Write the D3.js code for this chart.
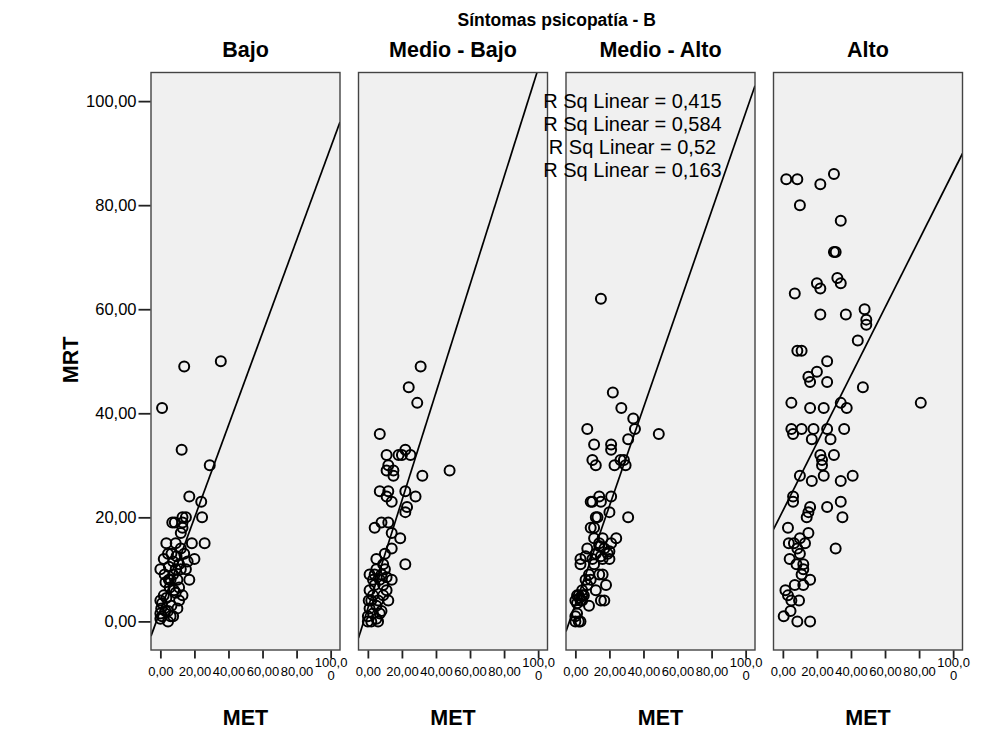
<!DOCTYPE html>
<html>
<head>
<meta charset="utf-8">
<script src="https://cdn.jsdelivr.net/npm/d3@7"></script>
<style>
  body { margin: 0; background: #ffffff; }
  svg { display: block; font-family: "Liberation Sans", Arial, Helvetica, sans-serif; }
</style>
</head>
<body>
<svg id="chart" width="981" height="747"></svg>
<script>
// ---- data: [MET, MRT] per group of "Síntomas psicopatía - B" ----
const groups = ["Bajo", "Medio - Bajo", "Medio - Alto", "Alto"];

const bajo = [
  [1,41],[12.5,33],[29,30],[17,24],[24,23],[24.5,20],[13,20],[15,20],[7,19],[8.5,19],
  [13,19],[12,17],[13,18],[3.5,15],[9,15],[18.5,15],[26,15],[12,14],[4.5,13],[2,12],
  [7.5,11.5],[20,12],[16,11.5],[0,10],[15,10],[17,8],[10,8],[3,7.5],[7.5,9],[12,10],
  [5,10.5],[13,5],[9,5.5],[0,4],[1,3.5],[3.5,4.5],[6.5,3],[10,2.5],[0,1.5],[1,1],
  [4.5,0],[0,0.5],[7.5,1],[11,4],[5.5,6.5],[2.5,9],[6.5,13],[0.5,2.5],[9.5,12.5],[14,13],
  [11,6.5],[4.5,2],[14,49],[35.5,50],[2,5],[5,8],[8,6],[6,1],[3,2],[9,10],[11,11],[6,8]
];

const medioBajo = [
  [31,49],[24,45],[29,42],[7,36],[22,33],[11,32],[18,32],[20,32],[25,32],[12,30],
  [11,29],[15,29],[15,28],[32,28],[48,29],[7,25],[12,25],[22,25],[11,24],[14,23],
  [28,24],[23,22],[22,21],[4,18],[8,19],[12,19],[14,17],[19,16],[14,14],[5,12],
  [10,13],[22,11],[9,11],[1,9],[5,10],[10,10],[14,8],[7,8],[1,6],[9,7],
  [4,7],[12,4],[9,5],[0.5,4],[3,5],[6,4],[1,2.5],[5,3],[0,1],[0,0],
  [2,0],[6,0],[3,1.5],[8,2],[11,6],[4,9],[3,8],[8,9],[11,8.5],[2,4],[7,1.5],[5,0.5]
];

const medioAlto = [
  [15,62],[22,44],[27,41],[34,39],[35,37],[7,37],[49,36],[31,35],[11,34],[21,34],
  [21,33],[10,31],[12,30],[23,30],[26.5,31],[29.5,30],[28.5,31],[31,20],[21,24],[14,24],
  [9,23],[10,23],[15,23],[20,21],[12,20],[13,20],[9,18],[11,18],[11,16],[16,16],
  [24,16],[21,15],[7,14],[14,14.5],[17,14],[12,13],[19,13],[15,12.5],[3,12],[3,11],
  [10,12],[11,11],[20,12],[16,12],[8,9],[14,9],[16,9],[6,8],[9,8],[18,7],
  [12,6],[7,7],[2,5],[4,5],[0,4],[3,4],[5,5],[15,4],[17,4],[8,3],
  [1,3.5],[0,0],[2,0],[3,0],[0,1],[1,1.5],[4,6],[1,5],[2.5,4.5],[4,4],[6,12.5],[20,13.5],[14,15]
];

const alto = [
  [2,85],[8.5,85],[22,84],[30,86],[10,80],[34,77],[30,71],[31,71],[32,66],[34,65],
  [20,65],[22,64],[7,63],[22,59],[37,59],[48,60],[49,58],[49,57],[44,54],[8.5,52],
  [11,52],[26,50],[20,48],[15,47],[16,46],[26,46],[47,45],[5,42],[16,41],[24,41],
  [34,42],[37.5,41],[81,42],[5,37],[6,36],[11,37],[18,37],[26,37],[36,37],[17,35],
  [28,35],[22,32],[30,32],[23,31],[23,30],[24,28],[10,28],[17,27],[34,27],[41,28],
  [6,24],[6,23],[16,22],[15,21],[14,20],[26,22],[34,23],[35,20],[3,18],[15,17],
  [3.5,15],[6.5,15],[10,16],[13,15],[8.5,14],[4,12],[10,13],[8,11],[12,11],[12,10],
  [11,9],[31,14],[16,8],[12,7],[7,7],[1.5,6],[3,5],[5,4],[9.5,4],[4.5,2],
  [0.5,1],[8.5,0],[16,0]
];

const groupPoints = [bajo, medioBajo, medioAlto, alto];

// linear fit per group (MRT = intercept + slope * MET) and its R²
const fitIntercept = [2.07, 2.5, 3.27, 21.25];
const fitSlope     = [0.89, 1.037, 0.945, 0.651];
const rSquared     = [0.415, 0.584, 0.52, 0.163];

const axisTicks  = [0, 20, 40, 60, 80, 100];
const chartTitle = "Síntomas psicopatía - B";
const xTitle = "MET";
const yTitle = "MRT";

// ---- layout ----
const plotTop = 72.5, plotBottom = 650;
const firstLeft = 151, panelW = 189, panelStep = 207.5;
const domain = [-5.5, 105.5];

const locale = d3.formatLocale({ decimal: ",", thousands: ".", grouping: [3], currency: ["", ""] });
const fmt2 = locale.format(".2f");
const fmtR = v => String(v).replace(".", ",");

const svg = d3.select("#chart");
const y = d3.scaleLinear().domain(domain).range([plotBottom, plotTop]);

// overall title
svg.append("text")
  .attr("x", (firstLeft + 3 * panelStep + firstLeft + panelW) / 2)
  .attr("y", 26)
  .attr("text-anchor", "middle")
  .attr("font-size", 17.5)
  .attr("font-weight", "bold")
  .attr("fill", "#000")
  .text(chartTitle);

// wrap a tick label character by character when it is wider than its slot
function wrapChars(textSel, maxW, lineH) {
  textSel.each(function () {
    const t = d3.select(this);
    const full = t.text();
    if (this.getComputedTextLength() <= maxW) return;
    const lines = [];
    let cur = "";
    for (const ch of full) {
      t.text(cur + ch);
      if (this.getComputedTextLength() > maxW && cur.length) {
        lines.push(cur);
        cur = ch;
      } else {
        cur += ch;
      }
    }
    lines.push(cur);
    t.text(null);
    const xAttr = t.attr("x") || 0;
    lines.forEach((ln, k) => {
      t.append("tspan").attr("x", xAttr).attr("dy", k === 0 ? 0 : lineH).text(ln);
    });
  });
}

groups.forEach((g, i) => {
  const x0 = firstLeft + i * panelStep;
  const x = d3.scaleLinear().domain(domain).range([x0, x0 + panelW]);
  const pts = groupPoints[i];

  // panel background
  svg.append("rect")
    .attr("x", x0).attr("y", plotTop)
    .attr("width", panelW).attr("height", plotBottom - plotTop)
    .attr("fill", "#f0f0f0");

  const clipId = "clip-" + i;
  svg.append("clipPath").attr("id", clipId)
    .append("rect")
    .attr("x", x0).attr("y", plotTop)
    .attr("width", panelW).attr("height", plotBottom - plotTop);

  const body = svg.append("g").attr("clip-path", `url(#${clipId})`);

  // points
  body.selectAll("circle")
    .data(pts)
    .join("circle")
    .attr("cx", d => x(d[0]))
    .attr("cy", d => y(d[1]))
    .attr("r", 5)
    .attr("fill", "none")
    .attr("stroke", "#000")
    .attr("stroke-width", 2);

  // fit line across the panel's MET range
  const fitLine = d3.line().x(d => x(d)).y(d => y(fitIntercept[i] + fitSlope[i] * d));
  body.append("path")
    .attr("d", fitLine(domain))
    .attr("fill", "none")
    .attr("stroke", "#000")
    .attr("stroke-width", 1.7);

  // panel frame
  svg.append("rect")
    .attr("x", x0).attr("y", plotTop)
    .attr("width", panelW).attr("height", plotBottom - plotTop)
    .attr("fill", "none")
    .attr("stroke", "#444")
    .attr("stroke-width", 1.4);

  // panel heading
  svg.append("text")
    .attr("x", x0 + panelW / 2)
    .attr("y", 57)
    .attr("text-anchor", "middle")
    .attr("font-size", 21.5)
    .attr("font-weight", "bold")
    .attr("fill", "#000")
    .text(g);

  // x axis
  const gx = svg.append("g")
    .attr("transform", `translate(0,${plotBottom + 0.5})`)
    .call(d3.axisBottom(x).tickValues(axisTicks).tickSize(8).tickPadding(8).tickFormat(fmt2));
  gx.select(".domain").remove();
  gx.selectAll(".tick line").attr("stroke", "#222").attr("stroke-width", 1.8);
  gx.selectAll(".tick text")
    .attr("font-size", 13)
    .attr("font-family", "Liberation Sans, Arial, sans-serif")
    .attr("fill", "#000");
  const slot = x(20) - x(0) - 0.5;
  gx.selectAll(".tick text").call(wrapChars, slot, 13.5);

  // x axis title
  svg.append("text")
    .attr("x", x0 + panelW / 2)
    .attr("y", 725)
    .attr("text-anchor", "middle")
    .attr("font-size", 21.5)
    .attr("font-weight", "bold")
    .attr("fill", "#000")
    .text(xTitle);

  // y axis on the first panel only
  if (i === 0) {
    const gy = svg.append("g")
      .attr("transform", `translate(${x0 - 0.5},0)`)
      .call(d3.axisLeft(y).tickValues(axisTicks).tickSize(12).tickPadding(2).tickFormat(fmt2));
    gy.select(".domain").remove();
    gy.selectAll(".tick line").attr("stroke", "#222").attr("stroke-width", 1.8);
    gy.selectAll(".tick text")
      .attr("font-size", 16.5)
      .attr("font-family", "Liberation Sans, Arial, sans-serif")
      .attr("fill", "#000");
  }
});

// y axis title
svg.append("text")
  .attr("transform", "translate(78,360) rotate(-90)")
  .attr("text-anchor", "middle")
  .attr("font-size", 21.5)
  .attr("font-weight", "bold")
  .attr("fill", "#000")
  .text(yTitle);

// R² annotations, one line per group
svg.append("g")
  .selectAll("text")
  .data(rSquared)
  .join("text")
  .attr("x", 632.5)
  .attr("y", (d, k) => 108 + k * 23)
  .attr("text-anchor", "middle")
  .attr("font-size", 20)
  .attr("fill", "#000")
  .text(d => "R Sq Linear = " + fmtR(d));
</script>
</body>
</html>
